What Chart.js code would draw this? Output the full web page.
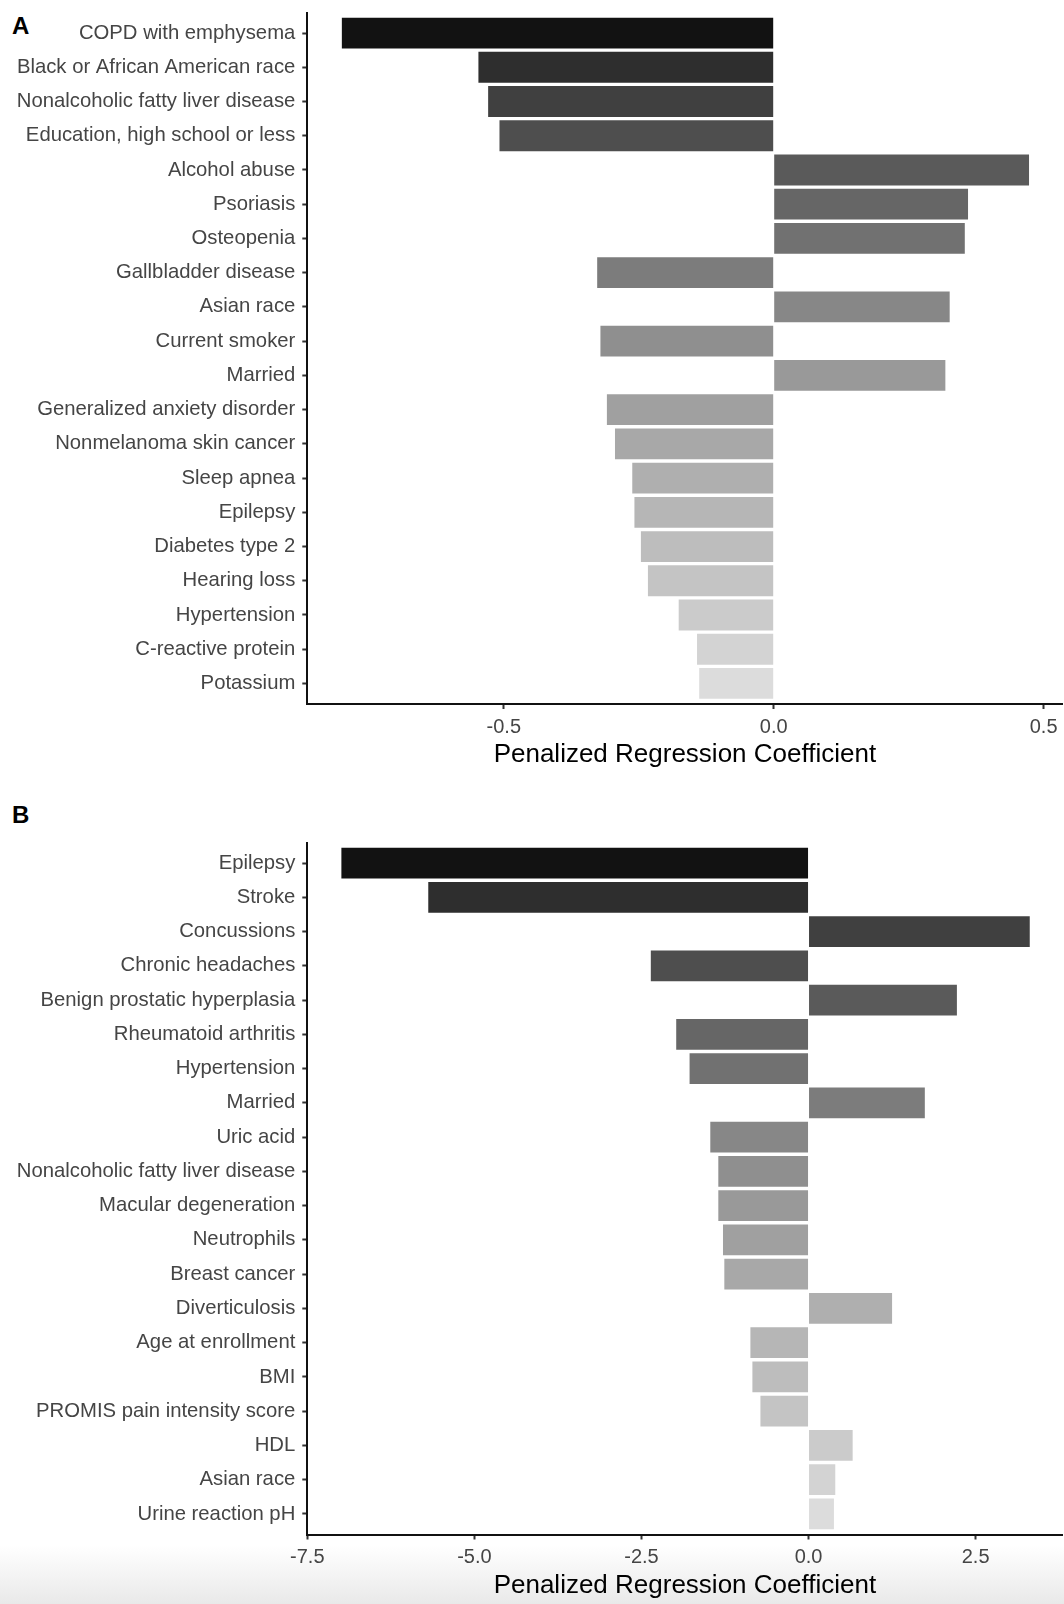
<!DOCTYPE html>
<html>
<head>
<meta charset="utf-8">
<script src="https://cdn.jsdelivr.net/npm/chart.js@4.4.1/dist/chart.umd.min.js"></script>
<style>
  html, body { margin: 0; padding: 0; }
  body {
    width: 1064px; height: 1604px; position: relative; overflow: hidden;
    background: linear-gradient(to bottom, #ffffff 0px, #ffffff 1545px, #e9e9e9 1604px);
    font-family: 'Liberation Sans', Arial, sans-serif;
  }
  .panel { position: absolute; left: 0; width: 1064px; }
  #wrapA { top: 0; height: 790px; }
  #wrapB { top: 790px; height: 814px; }
  .tag { position: absolute; font-weight: bold; font-size: 24px; color: #000; line-height: 1; font-family: 'Liberation Sans', Arial, sans-serif; }
</style>
</head>
<body>
<div class="tag" style="left:12px; top:13.7px;">A</div>
<div class="tag" style="left:12px; top:803.2px;">B</div>
<div class="panel" id="wrapA"><canvas id="chartA" width="1064" height="790" style="width:1064px;height:790px;"></canvas></div>
<div class="panel" id="wrapB"><canvas id="chartB" width="1064" height="814" style="width:1064px;height:814px;"></canvas></div>
<script>
// ---------- Data ----------
const labelsA = [
  'COPD with emphysema',
  'Black or African American race',
  'Nonalcoholic fatty liver disease',
  'Education, high school or less',
  'Alcohol abuse',
  'Psoriasis',
  'Osteopenia',
  'Gallbladder disease',
  'Asian race',
  'Current smoker',
  'Married',
  'Generalized anxiety disorder',
  'Nonmelanoma skin cancer',
  'Sleep apnea',
  'Epilepsy',
  'Diabetes type 2',
  'Hearing loss',
  'Hypertension',
  'C-reactive protein',
  'Potassium'
];
const valuesA = [
  -0.800, -0.547, -0.529, -0.508, 0.473, 0.360, 0.354, -0.327, 0.326, -0.321,
  0.318, -0.309, -0.294, -0.262, -0.258, -0.246, -0.233, -0.176, -0.142, -0.138
];
const xTicksA = [-0.5, 0.0, 0.5];

const labelsB = [
  'Epilepsy',
  'Stroke',
  'Concussions',
  'Chronic headaches',
  'Benign prostatic hyperplasia',
  'Rheumatoid arthritis',
  'Hypertension',
  'Married',
  'Uric acid',
  'Nonalcoholic fatty liver disease',
  'Macular degeneration',
  'Neutrophils',
  'Breast cancer',
  'Diverticulosis',
  'Age at enrollment',
  'BMI',
  'PROMIS pain intensity score',
  'HDL',
  'Asian race',
  'Urine reaction pH'
];
const valuesB = [
  -6.99, -5.69, 3.31, -2.36, 2.22, -1.98, -1.78, 1.74, -1.47, -1.35,
  -1.35, -1.28, -1.26, 1.25, -0.87, -0.84, -0.72, 0.66, 0.40, 0.38
];
const xTicksB = [-7.5, -5.0, -2.5, 0.0, 2.5];

const axisTitle = 'Penalized Regression Coefficient';

// ---------- Styles ----------
const greys = [
  '#121212', '#2e2e2e', '#404040', '#4e4e4e', '#5a5a5a', '#666666', '#717171', '#7c7c7c', '#878787', '#8f8f8f',
  '#999999', '#a0a0a0', '#a8a8a8', '#afafaf', '#b6b6b6', '#bdbdbd', '#c4c4c4', '#cbcbcb', '#d3d3d3', '#dcdcdc'
];
const FONT = "'Liberation Sans', Arial, Helvetica, sans-serif";
Chart.defaults.font.family = FONT;

function makeChart(canvasId, labels, values, xTicks, xMin, xMax, geom) {
  const data = values.map((v, i) => ({ x: v, y: i }));
  return new Chart(document.getElementById(canvasId), {
    type: 'bar',
    data: {
      datasets: [{
        data: data,
        backgroundColor: greys,
        borderWidth: 0,
        barPercentage: 0.9,
        categoryPercentage: 1.0
      }]
    },
    options: {
      indexAxis: 'y',
      responsive: false,
      animation: false,
      events: [],
      layout: { padding: { top: geom.padTop, right: geom.padRight, bottom: 0, left: 0 } },
      plugins: { legend: { display: false }, tooltip: { enabled: false } },
      scales: {
        y: {
          type: 'linear',
          reverse: true,
          offset: false,
          min: -0.6,
          max: labels.length - 1 + 0.6,
          afterBuildTicks: (scale) => { scale.ticks = labels.map((_, i) => ({ value: i })); },
          afterFit: (scale) => {
            scale.width = geom.yWidth;
            scale.paddingTop = 0;
            scale.paddingBottom = 0;
          },
          ticks: {
            autoSkip: false,
            padding: 7,
            color: '#454545',
            font: { size: 20.3, lineHeight: 1.0 },
            callback: (value) => labels[value]
          },
          grid: { display: true, offset: false, drawOnChartArea: false, drawTicks: true, tickLength: 5, tickColor: '#333333', tickWidth: 2 },
          border: { display: true, color: '#111111', width: 2 }
        },
        x: {
          type: 'linear',
          offset: false,
          min: xMin,
          max: xMax,
          afterBuildTicks: (scale) => { scale.ticks = xTicks.map(v => ({ value: v })); },
          afterFit: (scale) => { scale.height = geom.xHeight; },
          ticks: {
            autoSkip: false,
            padding: 6,
            color: '#454545',
            font: { size: 20 },
            callback: (value) => Number(value).toFixed(1)
          },
          grid: { display: true, offset: false, drawOnChartArea: false, drawTicks: true, tickLength: 5, tickColor: '#333333', tickWidth: 2 },
          border: { display: true, color: '#111111', width: 2 },
          title: {
            display: true,
            text: axisTitle,
            color: '#000000',
            font: { size: 26 },
            padding: { top: 0, bottom: geom.titlePadBottom }
          }
        }
      }
    }
  });
}

makeChart('chartA', labelsA, valuesA, xTicksA, -0.864, 0.535,
  { padTop: 12.5, padRight: 1.5, yWidth: 307.3, xHeight: 86, titlePadBottom: 19.4 });
makeChart('chartB', labelsB, valuesB, xTicksB, -7.5, 3.80,
  { padTop: 52.5, padRight: 1.5, yWidth: 307.3, xHeight: 69.5, titlePadBottom: 2.9 });
</script>
</body>
</html>
